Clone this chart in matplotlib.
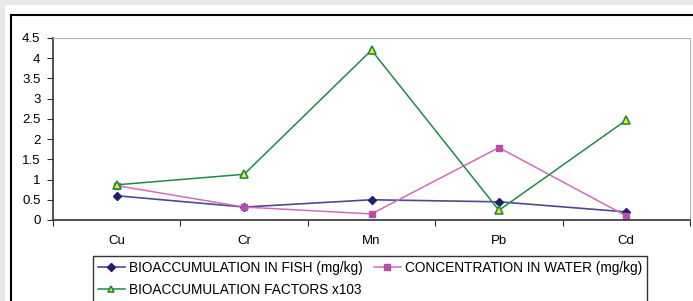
import matplotlib.pyplot as plt
from matplotlib.patches import Rectangle
import numpy as np

metals = ['Cu', 'Cr', 'Mn', 'Pb', 'Cd']
fish = [0.60, 0.32, 0.50, 0.45, 0.20]
water = [0.85, 0.32, 0.15, 1.79, 0.10]
factors = [0.87, 1.13, 4.20, 0.24, 2.47]
yticks = [0, 0.5, 1, 1.5, 2, 2.5, 3, 3.5, 4, 4.5]

plt.rcParams['font.family'] = ['Liberation Sans', 'DejaVu Sans']

W, H = 693, 301
fig = plt.figure(figsize=(W/100, H/100), dpi=100)
fig.patch.set_facecolor('#e7e8ea')
# white panel and black frame
fig.patches.append(Rectangle((5/W, 0), 1, 1-5/H, transform=fig.transFigure,
                             facecolor='white', edgecolor='none', zorder=-2))
fig.patches.append(Rectangle((11/W, -0.1), 1, 1.1-15/H, transform=fig.transFigure,
                             facecolor='white', edgecolor='black', lw=1.5, zorder=-1))

ax = fig.add_axes([53/W, 1-220/H, (690-53)/W, (220-38)/H])
ax.set_zorder(2)
ax.patch.set_alpha(0)
x = np.arange(len(metals))
l1, = ax.plot(x, fish, color='#4b4b8f', lw=1.2, marker='D', ms=4.5,
              mfc='#20206e', mec='#20206e', label='BIOACCUMULATION IN FISH (mg/kg)')
l2, = ax.plot(x, water, color='#cf6cbf', lw=1.1, marker='s', ms=5,
              mfc='#b84ea6', mec='#b84ea6', label='CONCENTRATION IN WATER (mg/kg)')
l3, = ax.plot(x, factors, color='#1e8a4a', lw=1.1, marker='^', ms=6,
              mfc='#f2ee1a', mec='#1e8a4a', mew=1.2, label='BIOACCUMULATION FACTORS x103')

ax.set_xlim(-0.5, len(metals) - 0.5)
ax.set_ylim(0, 4.5)
ax.set_yticks(yticks)
ax.set_yticklabels([f'{v:g}' for v in yticks], fontsize=9.5)
ax.set_xticks(np.arange(len(metals) + 1) - 0.5)
ax.set_xticklabels([])
ax.set_xticks(x, minor=True)
ax.set_xticklabels(metals, minor=True, fontsize=9.5)
ax.tick_params(axis='x', which='major', length=4, direction='out', color='#333333')
ax.tick_params(axis='x', which='minor', length=0, pad=11)
ax.tick_params(axis='y', length=4, direction='out', color='#333333', pad=5)
for s in ['top', 'right']:
    ax.spines[s].set_color('#b0b0b0')
for s in ['left', 'bottom']:
    ax.spines[s].set_color('#333333')
    ax.spines[s].set_linewidth(1.2)

leg = fig.legend(handles=[l1, l3, l2], loc='upper left', bbox_to_anchor=(93/W, 1-256/H),
                 ncol=2, fontsize=9.8, frameon=True, fancybox=False, edgecolor='black',
                 handlelength=2.0, handletextpad=0.3, columnspacing=0.8,
                 borderpad=0.35, labelspacing=0.6, borderaxespad=0, markerscale=0.8)
leg.get_frame().set_linewidth(1.0)
leg.set_zorder(3)

fig.savefig('out.png', dpi=100)
